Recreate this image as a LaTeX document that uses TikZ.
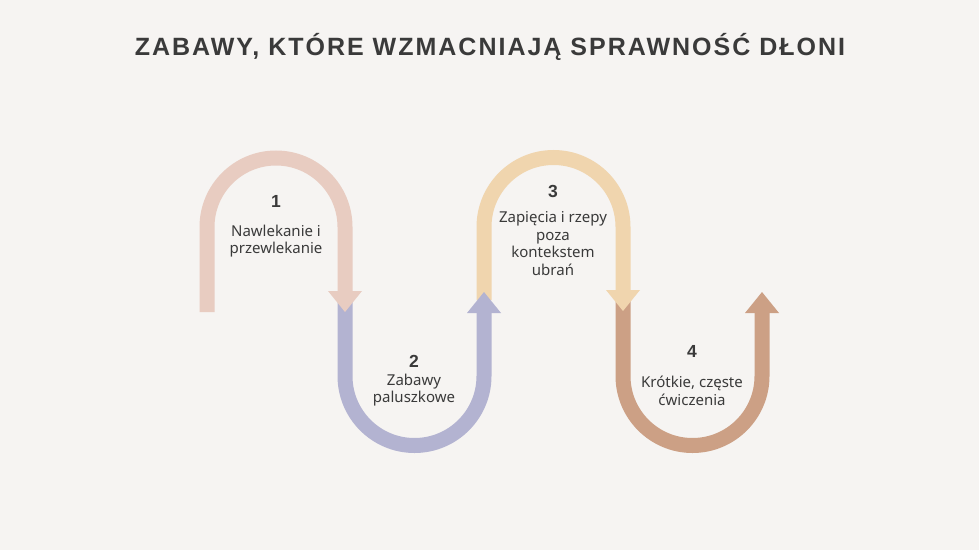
\documentclass[tikz,border=0pt]{standalone}
\usepackage{fontspec}
\setmainfont{Noto Sans}
\newfontfamily\titlefont[LetterSpace=8]{Liberation Sans}
\newfontfamily\numfont{Liberation Sans}
\definecolor{bg}{HTML}{F6F4F2}
\definecolor{ink}{HTML}{3A3A3A}
\definecolor{cpink}{HTML}{E8CCC1}
\definecolor{cpurple}{HTML}{B3B3D1}
\definecolor{cyellow}{HTML}{F0D5AE}
\definecolor{cbrown}{HTML}{CCA085}
\begin{document}
\begin{tikzpicture}[x=1pt,y=1pt,
  band/.style={line width=15pt,line cap=butt},
  num/.style={font=\numfont\bfseries\fontsize{17.5}{20}\selectfont,text=ink,inner sep=0pt},
  lbl/.style={font=\fontsize{15}{17.5}\selectfont,text=ink,align=center,inner sep=0pt}]
\fill[bg] (0,0) rectangle (979,550);
\useasboundingbox (0,0) rectangle (979,550);
\node[font=\titlefont\bfseries\fontsize{25}{30}\selectfont,text=ink,inner sep=0pt] (title) at (490,503) {ZABAWY, KTÓRE WZMACNIAJĄ SPRAWNOŚĆ DŁONI};
% 4 brown
\draw[band,cbrown] (623,250) -- (623,174) arc[start angle=180,end angle=360,radius=69.5] -- (762,237);
\fill[cbrown] (745,237) -- (779,237) -- (762,258) -- cycle;
% 3 yellow
\draw[band,cyellow] (484,250) -- (484,323) arc[start angle=180,end angle=0,radius=69.5] -- (623,260);
\fill[cyellow] (606,260) -- (640,260) -- (623,239) -- cycle;
% 2 purple
\draw[band,cpurple] (345,250) -- (345,174) arc[start angle=180,end angle=360,radius=69.5] -- (484,237);
\fill[cpurple] (467,237) -- (501,237) -- (484,258) -- cycle;
% 1 pink
\draw[band,cpink] (207,238) -- (207,323) arc[start angle=180,end angle=0,radius=69] -- (345,259);
\fill[cpink] (328,259) -- (362,259) -- (345,238) -- cycle;
% texts
\node[num] (n1) at (276,349) {1};
\node[lbl] (t1) at (276,309) {Nawlekanie i\\przewlekanie};
\node[num] (n2) at (414,189) {2};
\node[lbl] (t2) at (414,160) {Zabawy\\paluszkowe};
\node[num] (n3) at (553,359) {3};
\node[lbl] (t3) at (553,306.5) {Zapięcia i rzepy\\poza\\kontekstem\\ubrań};
\node[num] (n4) at (692,199) {4};
\node[lbl] (t4) at (692,159) {Krótkie, częste\\ćwiczenia};
\end{tikzpicture}
\end{document}
